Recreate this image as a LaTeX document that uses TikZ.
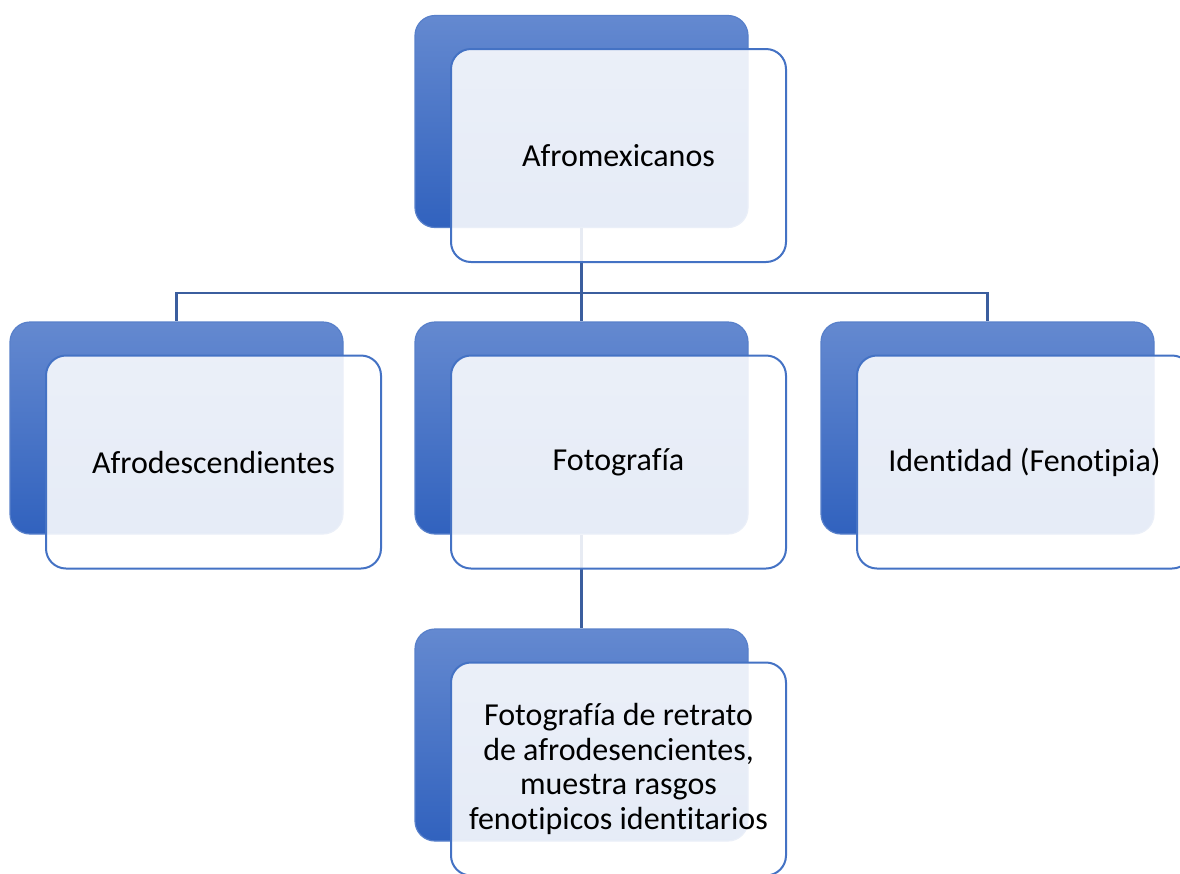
\documentclass[tikz,border=0pt]{standalone}
\usepackage{fontspec}
\setmainfont{Carlito}[RawFeature={-liga;-clig;-calt;-dlig}]
\usepackage{tikz}
\usetikzlibrary{positioning}

\definecolor{backtop}{HTML}{6489D0}
\definecolor{backmid}{HTML}{5880CA}
\definecolor{backbot}{HTML}{3162BE}
\definecolor{frontline}{HTML}{4472C4}
\definecolor{linkline}{HTML}{3B5E9E}

\begin{document}
\begin{tikzpicture}[
  x=0.5pt, y=-0.5pt,
  back/.style={rectangle, rounded corners=10pt, draw=backmid, line width=0.6pt,
    top color=backtop, middle color=backmid, bottom color=backbot,
    minimum width=166.5pt, minimum height=106pt},
  front/.style={rectangle, rounded corners=10pt, draw=frontline, line width=1pt,
    fill=white, fill opacity=0.88, text opacity=1, align=center,
    minimum width=167.5pt, minimum height=106.5pt, xshift=18.5pt, yshift=-17pt,
    font=\fontsize{16}{17.4}\selectfont},
  link/.style={draw=linkline, line width=1.25pt}]

\useasboundingbox (0,0) rectangle (1180,874);
\clip (0,0) rectangle (1180,874);

% back boxes
\node[back] (afroB) at (581.5,121.5) {};
\node[back] (descB) at (176.5,428) {};
\node[back] (fotoB) at (581.5,428) {};
\node[back] (idenB) at (987.5,428) {};
\node[back] (retrB) at (581.5,735) {};

% Lines
\coordinate (split) at (581.5,293);
\draw[link] (afroB.south) -- (split);
\draw[link] (split) -| (descB.north);
\draw[link] (split) -- (fotoB.north);
\draw[link] (split) -| (idenB.north);
\draw[link] (fotoB.south) -- (retrB.north);

% front boxes
\node[front] (afro) at (afroB) {Afromexicanos};
\node[front] (desc) at (descB) {Afrodescendientes};
\node[front] (foto) at (fotoB) {Fotografía};
\node[front] (iden) at (idenB) {Identidad (Fenotipia)};
\node[front] (retr) at (retrB) {Fotografía de retrato\\de afrodesencientes,\\muestra rasgos\\fenotipicos identitarios};

\end{tikzpicture}
\end{document}
